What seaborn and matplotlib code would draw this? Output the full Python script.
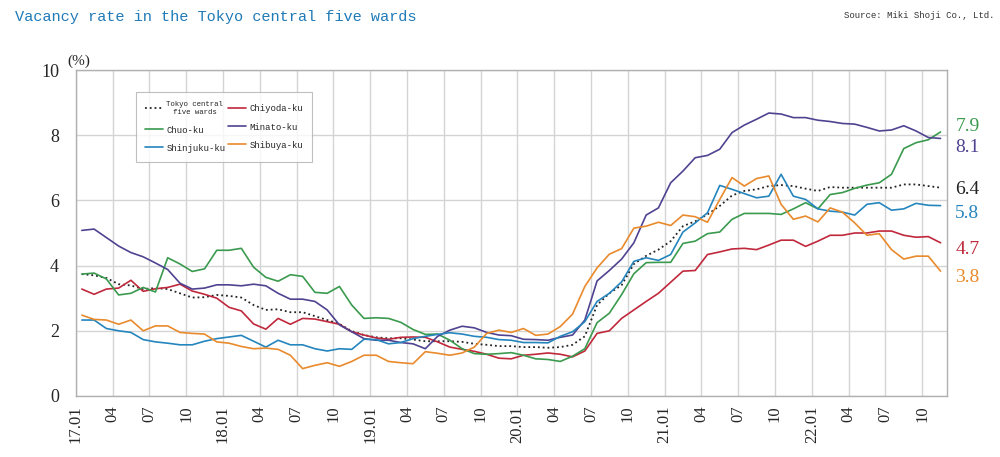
import numpy as np
import pandas as pd
import matplotlib
matplotlib.use('agg')
import matplotlib.pyplot as plt
import seaborn as sns

# monthly vacancy rate (%), 2017.01 - 2022.11
tokyo = [3.74, 3.70, 3.62, 3.43, 3.39, 3.28, 3.31, 3.28, 3.15, 3.02, 3.03, 3.10, 3.07, 3.02, 2.79, 2.64, 2.66, 2.57,
         2.57, 2.45, 2.33, 2.21, 1.99, 1.87, 1.80, 1.77, 1.77, 1.73, 1.68, 1.68, 1.68, 1.66, 1.60, 1.57, 1.53, 1.53,
         1.50, 1.50, 1.48, 1.50, 1.57, 1.83, 2.79, 3.15, 3.40, 4.05, 4.30, 4.49, 4.75, 5.21, 5.36, 5.57, 5.83, 6.15,
         6.29, 6.34, 6.44, 6.47, 6.44, 6.36, 6.29, 6.41, 6.39, 6.39, 6.39, 6.39, 6.39, 6.49, 6.49, 6.44, 6.39]
chiyoda = [3.28, 3.12, 3.28, 3.31, 3.55, 3.21, 3.29, 3.33, 3.43, 3.22, 3.12, 3.00, 2.72, 2.61, 2.21, 2.05, 2.38, 2.20,
           2.38, 2.36, 2.28, 2.20, 1.97, 1.87, 1.78, 1.74, 1.80, 1.81, 1.80, 1.66, 1.50, 1.43, 1.37, 1.28, 1.16, 1.14,
           1.25, 1.28, 1.32, 1.28, 1.20, 1.38, 1.92, 2.00, 2.38, 2.64, 2.90, 3.15, 3.49, 3.83, 3.85, 4.34, 4.42, 4.51,
           4.53, 4.49, 4.63, 4.78, 4.78, 4.59, 4.75, 4.93, 4.93, 5.00, 5.00, 5.06, 5.06, 4.93, 4.87, 4.89, 4.70]
chuo = [3.74, 3.77, 3.59, 3.10, 3.15, 3.33, 3.19, 4.24, 4.05, 3.82, 3.90, 4.47, 4.47, 4.53, 3.95, 3.64, 3.52, 3.72,
        3.67, 3.18, 3.15, 3.36, 2.79, 2.38, 2.40, 2.38, 2.26, 2.04, 1.89, 1.90, 1.71, 1.45, 1.30, 1.28, 1.30, 1.33,
        1.25, 1.14, 1.12, 1.06, 1.22, 1.45, 2.25, 2.54, 3.11, 3.75, 4.09, 4.10, 4.10, 4.68, 4.75, 4.98, 5.03, 5.42,
        5.60, 5.60, 5.60, 5.57, 5.74, 5.93, 5.74, 6.18, 6.24, 6.37, 6.47, 6.54, 6.80, 7.59, 7.77, 7.86, 8.10]
minato = [5.08, 5.12, 4.86, 4.60, 4.40, 4.27, 4.08, 3.88, 3.46, 3.28, 3.31, 3.41, 3.41, 3.38, 3.43, 3.38, 3.15, 2.97,
          2.97, 2.90, 2.64, 2.18, 1.97, 1.76, 1.71, 1.71, 1.64, 1.60, 1.45, 1.83, 2.02, 2.14, 2.09, 1.95, 1.87, 1.85,
          1.74, 1.73, 1.71, 1.80, 1.87, 2.33, 3.53, 3.85, 4.20, 4.70, 5.55, 5.77, 6.54, 6.90, 7.31, 7.38, 7.57, 8.08,
          8.31, 8.49, 8.68, 8.65, 8.54, 8.54, 8.46, 8.42, 8.36, 8.34, 8.24, 8.13, 8.16, 8.29, 8.13, 7.93, 7.90]
shinjuku = [2.33, 2.33, 2.07, 2.00, 1.95, 1.73, 1.66, 1.62, 1.57, 1.57, 1.68, 1.76, 1.81, 1.86, 1.68, 1.50, 1.71, 1.57,
            1.57, 1.45, 1.38, 1.45, 1.43, 1.74, 1.73, 1.60, 1.64, 1.76, 1.83, 1.89, 1.94, 1.90, 1.83, 1.80, 1.73, 1.71,
            1.64, 1.64, 1.63, 1.83, 1.97, 2.28, 2.90, 3.15, 3.50, 4.13, 4.24, 4.16, 4.34, 5.03, 5.31, 5.62, 6.46, 6.34,
            6.21, 6.08, 6.13, 6.80, 6.13, 6.03, 5.74, 5.67, 5.64, 5.55, 5.88, 5.93, 5.70, 5.74, 5.91, 5.85, 5.84]
shibuya = [2.48, 2.35, 2.33, 2.20, 2.33, 2.00, 2.15, 2.15, 1.95, 1.92, 1.90, 1.66, 1.62, 1.52, 1.45, 1.47, 1.43, 1.25,
           0.84, 0.94, 1.02, 0.91, 1.06, 1.25, 1.25, 1.06, 1.02, 0.99, 1.36, 1.31, 1.25, 1.32, 1.50, 1.92, 2.02, 1.95,
           2.07, 1.86, 1.90, 2.13, 2.51, 3.36, 3.93, 4.35, 4.52, 5.15, 5.21, 5.33, 5.23, 5.55, 5.50, 5.33, 6.03, 6.70,
           6.44, 6.67, 6.75, 5.88, 5.42, 5.52, 5.34, 5.77, 5.64, 5.31, 4.93, 4.98, 4.49, 4.20, 4.29, 4.29, 3.83]

tick_labels = ['17.01', '04', '07', '10', '18.01', '04', '07', '10', '19.01', '04', '07', '10',
               '20.01', '04', '07', '10', '21.01', '04', '07', '10', '22.01', '04', '07', '10']
end_labels = ['7.9', '8.1', '6.4', '5.8', '4.7', '3.8']

series = [
    ('Tokyo central\nfive wards', tokyo, '#222222', ':'),
    ('Chiyoda-ku', chiyoda, '#c0283c', '-'),
    ('Chuo-ku', chuo, '#3a9a4e', '-'),
    ('Minato-ku', minato, '#4f4391', '-'),
    ('Shinjuku-ku', shinjuku, '#2585bd', '-'),
    ('Shibuya-ku', shibuya, '#e98a2c', '-'),
]

sns.set_theme(style='white')
plt.rcParams['font.family'] = ['Liberation Serif', 'DejaVu Serif']

fig = plt.figure(figsize=(10, 4.57), dpi=100)
ax = fig.add_axes([0.0757, 0.1335, 0.871, 0.7133])

x = np.arange(len(tokyo)) + 0.5
handles = {}
for name, vals, col, ls in series:
    df = pd.DataFrame({'month': x, 'rate': vals})
    sns.lineplot(data=df, x='month', y='rate', ax=ax, color=col, linestyle=ls,
                 linewidth=1.2 if ls == '-' else 1.3)
    handles[name] = ax.lines[-1]

ax.set_xlim(0, 71)
ax.set_ylim(0, 10)
ax.set_xticks(np.arange(0, 72, 3))
ax.set_xticklabels(tick_labels, rotation=90, fontsize=12)
ax.set_yticks(np.arange(0, 11, 2))
ax.set_yticklabels([str(v) for v in range(0, 11, 2)], fontsize=13)
ax.set_xlabel('')
ax.set_ylabel('')
ax.grid(True, color='#d4d4d4', linewidth=1)
ax.set_axisbelow(True)
for s in ax.spines.values():
    s.set_color('#b0b0b0')
    s.set_linewidth(1)
ax.tick_params(axis='x', length=4, color='#c8c8c8', pad=3)
ax.tick_params(axis='y', length=0, pad=12)

ax.text(-0.7, 10.05, '(%)', fontsize=11, ha='left', va='bottom', transform=ax.transData)

# end-of-line labels
label_y = [8.26, 7.63, 6.33, 5.6, 4.5, 3.65]
label_cols = ['#3a9a4e', '#4f4391', '#222222', '#2585bd', '#c0283c', '#e98a2c']
for txt, yy, col in zip(end_labels, label_y, label_cols):
    ax.text(71.7, yy, txt, color=col, fontsize=14, va='center', ha='left')

order = ['Tokyo central\nfive wards', 'Chuo-ku', 'Shinjuku-ku', 'Chiyoda-ku', 'Minato-ku', 'Shibuya-ku']
leg = ax.legend([handles[k] for k in order], order, ncol=2, loc='upper left',
                bbox_to_anchor=(0.0635, 0.945), frameon=True, fancybox=False,
                prop={'family': 'Liberation Mono', 'size': 6.5}, handlelength=2.0,
                columnspacing=0.3, labelspacing=1.0, borderpad=1.0, handletextpad=0.4)
leg.get_frame().set_edgecolor('#b0b0b0')
leg.get_frame().set_linewidth(0.8)
for t in leg.get_texts():
    if t.get_text().startswith('Tokyo'):
        t.set_fontsize(5.3)
        t.set_ha('center')
        t.set_multialignment('center')

fig.text(0.015, 0.963, 'Vacancy rate in the Tokyo central five wards', color='#1f7ab8',
         fontsize=11, family='Liberation Mono', ha='left', va='center')
fig.text(0.995, 0.965, 'Source: Miki Shoji Co., Ltd.', color='#333333',
         fontsize=6.5, family='Liberation Mono', ha='right', va='center')

fig.savefig('out.png', dpi=100)
